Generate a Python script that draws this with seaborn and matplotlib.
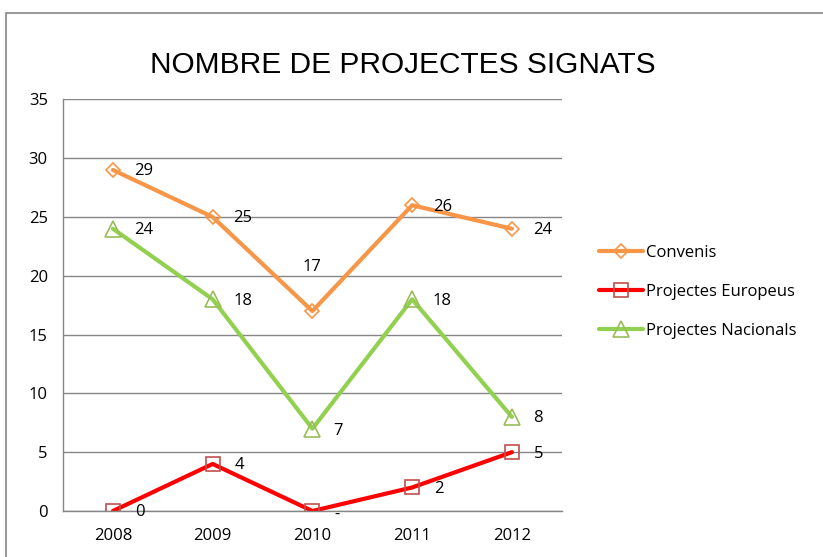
import seaborn as sns
import matplotlib.pyplot as plt
import pandas as pd
from matplotlib.patches import Rectangle

years = ["2008", "2009", "2010", "2011", "2012"]
convenis = [29, 25, 17, 26, 24]
europeus = [0, 4, 0, 2, 5]
nacionals = [24, 18, 7, 18, 8]
europeus_labels = ["0", "4", "-", "2", "5"]

series = ["Convenis", "Projectes Europeus", "Projectes Nacionals"]
line_colors = ["#f79646", "#ff0000", "#92d050"]
edge_colors = ["#f79646", "#c0504d", "#9bbb59"]
markers = ["D", "s", "^"]
marker_sizes = [7, 10, 11]

df = pd.DataFrame({
    "year": years * 3,
    "value": convenis + europeus + nacionals,
    "serie": [s for s in series for _ in years],
})

sns.set_style("white")
plt.rcParams["font.family"] = ["Open Sans", "DejaVu Sans"]
plt.rcParams["text.color"] = "black"
plt.rcParams["xtick.labelcolor"] = "black"
plt.rcParams["ytick.labelcolor"] = "black"

fig = plt.figure(figsize=(8.23, 5.57), dpi=100)
ax = fig.add_axes([0.0766, 0.0826, 0.606, 0.739])

for i, s in enumerate(series):
    sns.lineplot(data=df[df.serie == s], x="year", y="value", ax=ax,
                 color=line_colors[i], linewidth=3, marker=markers[i],
                 markersize=marker_sizes[i], markerfacecolor="none",
                 markeredgecolor=edge_colors[i], markeredgewidth=1.2,
                 label=s, sort=False)

fs = 12
# data labels
for x, v in zip(years, convenis):
    if x == "2010":
        ax.annotate(str(v), (x, v), xytext=(0, 26), textcoords="offset points",
                    ha="center", va="bottom", fontsize=fs)
    else:
        ax.annotate(str(v), (x, v), xytext=(15, -1), textcoords="offset points",
                    ha="left", va="center", fontsize=fs)
for x, v in zip(years, nacionals):
    dy = -2 if x == "2010" else -1
    ax.annotate(str(v), (x, v), xytext=(15, dy), textcoords="offset points",
                ha="left", va="center", fontsize=fs)
for x, v, t in zip(years, europeus, europeus_labels):
    dy = -3 if t == "-" else -1
    ax.annotate(t, (x, v), xytext=(16, dy), textcoords="offset points",
                ha="left", va="center", fontsize=fs, zorder=5)

ax.set_xlim(-0.5, 4.5)
ax.set_ylim(0, 35)
ax.set_yticks(range(0, 36, 5))
ax.set_xlabel("")
ax.set_ylabel("")
ax.yaxis.grid(True, color="#868686", linewidth=1)
ax.set_axisbelow(True)

for side in ["top", "right"]:
    ax.spines[side].set_visible(False)
for side in ["left", "bottom"]:
    ax.spines[side].set_color("#868686")
    ax.spines[side].set_linewidth(1)

ax.tick_params(axis="y", direction="out", length=5, color="#868686", labelsize=fs, pad=6)
ax.tick_params(axis="x", which="major", length=0, labelsize=fs, pad=12)
ax.set_xticks([i - 0.5 for i in range(6)], minor=True)
ax.tick_params(axis="x", which="minor", direction="out", length=5, color="#868686")

ax.legend(loc="center left", bbox_to_anchor=(1.045, 0.532), frameon=False,
          fontsize=fs, handlelength=2.6, labelspacing=1.38, handletextpad=0.2)

fig.text(0.489, 0.883, "NOMBRE DE PROJECTES SIGNATS", ha="center", va="center",
         fontsize=21.5, family=["Liberation Sans", "DejaVu Sans"])

fig.patches.append(Rectangle((6 / 823, -0.1), 1.1, 1 - 13 / 557 + 0.1,
                             transform=fig.transFigure, fill=False,
                             edgecolor="#868686", linewidth=1.2))

fig.savefig("out.png", dpi=100)
